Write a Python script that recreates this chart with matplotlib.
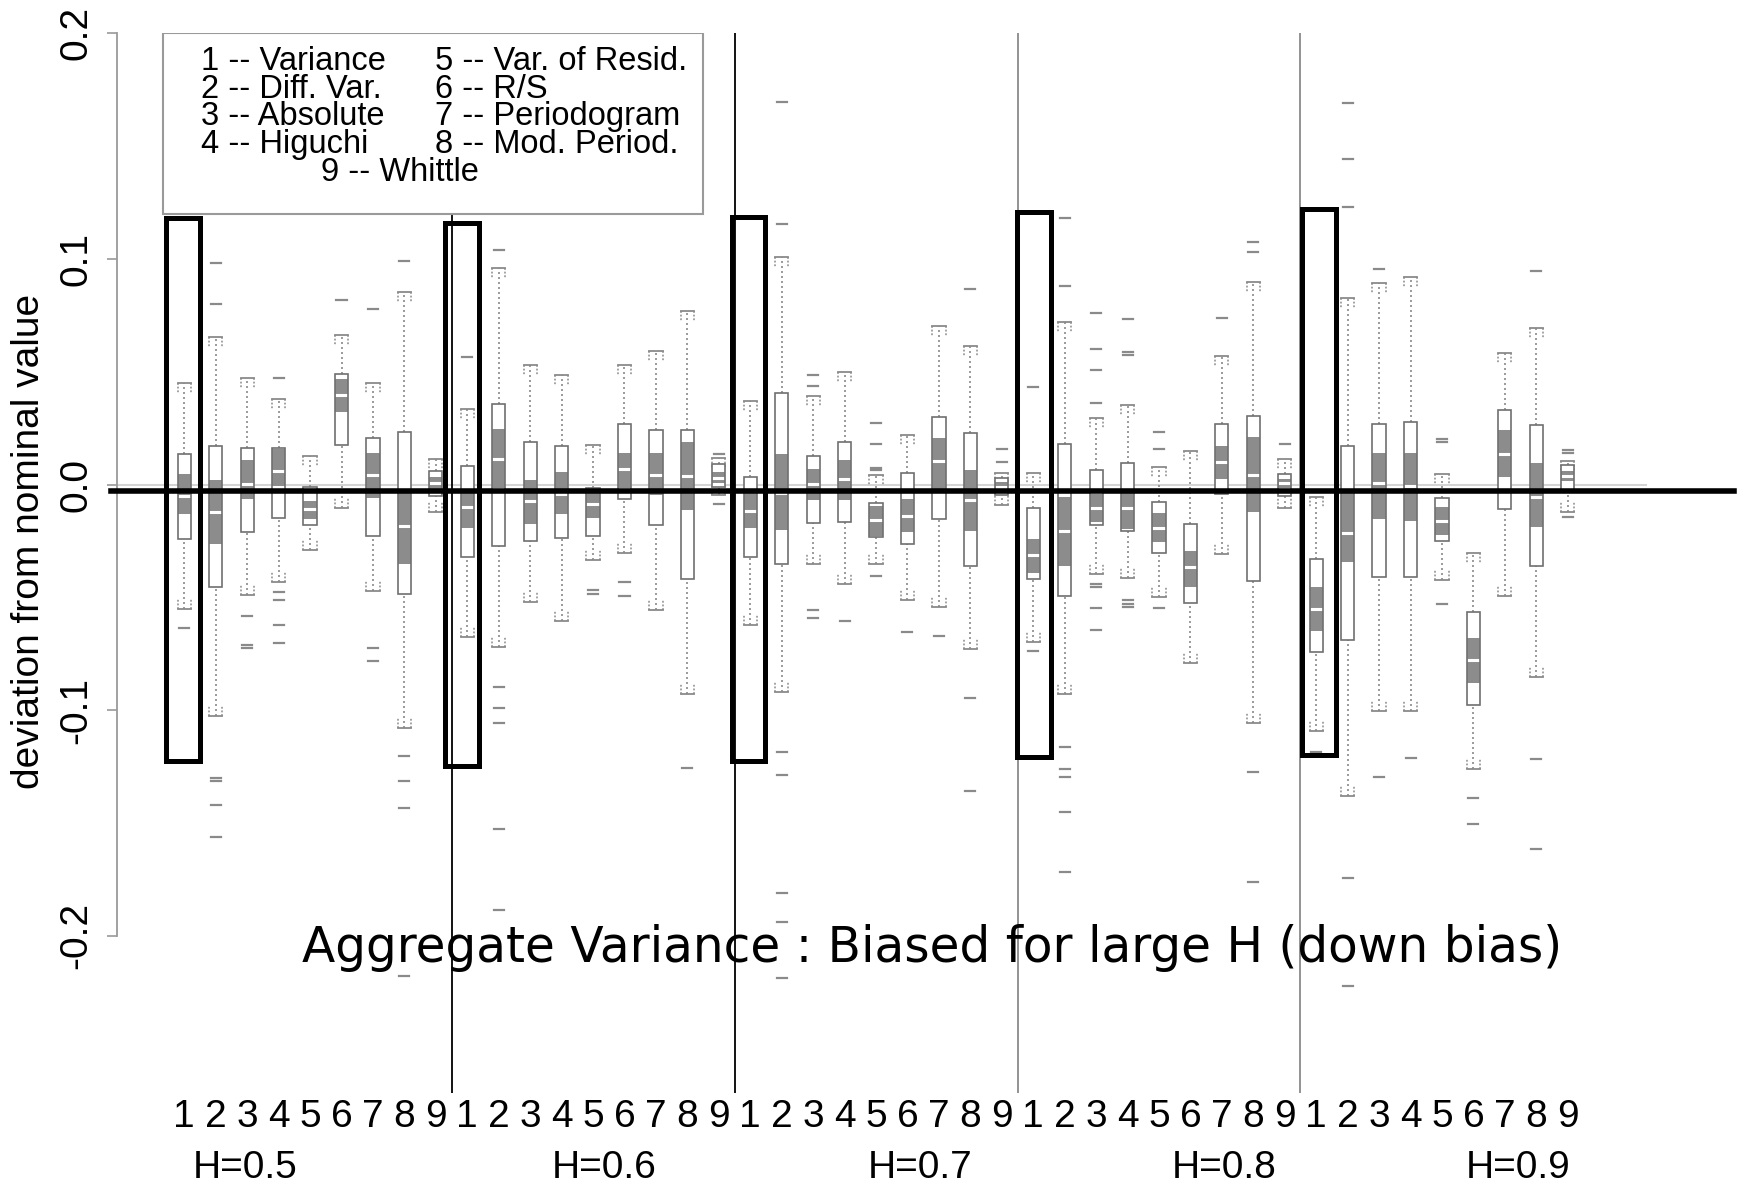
import matplotlib
matplotlib.use('Agg')
import matplotlib.pyplot as plt
import matplotlib.transforms as mtransforms
from matplotlib.patches import Rectangle
import numpy as np

# ---- data ---------------------------------------------------------------
methods = ['Variance', 'Diff. Var.', 'Absolute', 'Higuchi', 'Var. of Resid.',
           'R/S', 'Periodogram', 'Mod. Period.', 'Whittle']
hurst = ['H=0.5', 'H=0.6', 'H=0.7', 'H=0.8', 'H=0.9']
tick_digits = [str(k) for k in range(1, 10)] * 5

# box statistics, 9 estimators x 5 values of H
upper = [0.0448, 0.0653, 0.0472, 0.0378, 0.0125, 0.0665, 0.0452, 0.0853, 0.0112,
         0.0333, 0.0959, 0.0531, 0.0485, 0.0174, 0.0531, 0.0591, 0.0771, 0.0117,
         0.0369, 0.1008, 0.0393, 0.0498, 0.0043, 0.0221, 0.0701, 0.0612, 0.0050,
         0.0053, 0.0721, 0.0293, 0.0353, 0.0077, 0.0149, 0.0569, 0.0898, 0.0113,
         -0.0054, 0.0827, 0.0894, 0.0920, 0.0048, -0.0301, 0.0585, 0.0692, 0.0106]
q3 = [0.0137, 0.0169, 0.0161, 0.0160, -0.0011, 0.0490, 0.0207, 0.0231, 0.0060,
      0.0084, 0.0357, 0.0190, 0.0169, -0.0014, 0.0269, 0.0240, 0.0240, 0.0090,
      0.0033, 0.0405, 0.0126, 0.0187, -0.0082, 0.0050, 0.0300, 0.0230, 0.0030,
      -0.0103, 0.0180, 0.0065, 0.0096, -0.0079, -0.0175, 0.0269, 0.0305, 0.0045,
      -0.0328, 0.0169, 0.0268, 0.0276, -0.0059, -0.0564, 0.0330, 0.0263, 0.0087]
notch_hi = [0.0048, 0.0022, 0.0109, 0.0158, -0.0071, 0.0469, 0.0141, -0.0039, 0.0035,
            -0.0039, 0.0248, 0.0022, 0.0055, -0.0039, 0.0141, 0.0141, 0.0190, 0.0055,
            -0.0036, 0.0135, 0.0068, 0.0108, -0.0096, -0.0066, 0.0208, 0.0066, 0.0010,
            -0.0240, -0.0055, -0.0043, -0.0038, -0.0127, -0.0295, 0.0173, 0.0209, 0.0025,
            -0.0456, -0.0032, 0.0142, 0.0142, -0.0099, -0.0682, 0.0241, 0.0096, 0.0060]
median = [-0.0052, -0.0120, 0.0002, 0.0060, -0.0109, 0.0395, 0.0043, -0.0183, 0.0005,
          -0.0101, 0.0112, -0.0071, -0.0042, -0.0088, 0.0071, 0.0043, 0.0038, 0.0030,
          -0.0115, -0.0036, 0.0003, 0.0023, -0.0155, -0.0140, 0.0103, -0.0070, -0.0010,
          -0.0312, -0.0206, -0.0103, -0.0103, -0.0191, -0.0367, 0.0101, 0.0041, 0.0005,
          -0.0550, -0.0215, 0.0008, -0.0005, -0.0161, -0.0778, 0.0134, -0.0054, 0.0040]
notch_lo = [-0.0132, -0.0263, -0.0063, -0.0006, -0.0153, 0.0321, -0.0060, -0.0350, -0.0025,
            -0.0191, -0.0014, -0.0174, -0.0129, -0.0148, -0.0014, -0.0047, -0.0112, 0.0005,
            -0.0194, -0.0200, -0.0070, -0.0070, -0.0228, -0.0208, -0.0020, -0.0204, -0.0030,
            -0.0391, -0.0359, -0.0168, -0.0199, -0.0254, -0.0456, 0.0025, -0.0120, -0.0015,
            -0.0649, -0.0341, -0.0153, -0.0161, -0.0225, -0.0878, 0.0035, -0.0188, 0.0015]
q1 = [-0.0240, -0.0453, -0.0210, -0.0148, -0.0178, 0.0174, -0.0227, -0.0485, -0.0050,
      -0.0322, -0.0273, -0.0251, -0.0235, -0.0227, -0.0063, -0.0181, -0.0420, -0.0010,
      -0.0323, -0.0353, -0.0169, -0.0165, -0.0234, -0.0262, -0.0152, -0.0362, -0.0045,
      -0.0420, -0.0494, -0.0180, -0.0206, -0.0302, -0.0523, -0.0043, -0.0427, -0.0050,
      -0.0744, -0.0690, -0.0408, -0.0408, -0.0252, -0.0977, -0.0107, -0.0360, -0.0030]
lower = [-0.0551, -0.1025, -0.0489, -0.0431, -0.0292, -0.0104, -0.0472, -0.1077, -0.0120,
         -0.0677, -0.0718, -0.0521, -0.0606, -0.0333, -0.0305, -0.0554, -0.0930, -0.0046,
         -0.0624, -0.0920, -0.0353, -0.0442, -0.0353, -0.0511, -0.0541, -0.0728, -0.0090,
         -0.0696, -0.0926, -0.0398, -0.0415, -0.0499, -0.0792, -0.0307, -0.1056, -0.0105,
         -0.1092, -0.1380, -0.1004, -0.1004, -0.0421, -0.1261, -0.0494, -0.0851, -0.0120]
outliers = [
    [-0.0636],
    [0.0984, 0.0801, -0.1300, -0.1315, -0.1421, -0.1561],
    [-0.0583, -0.0710, -0.0726],
    [0.0473, -0.0477, -0.0513, -0.0624, -0.0701],
    [],
    [0.0817],
    [0.0778, -0.0726, -0.0783],
    [0.0992, -0.1203, -0.1312, -0.1434, -0.2179],
    [],
    [0.0567],
    [0.1041, -0.0898, -0.0992, -0.1058, -0.1525, -0.1886],
    [],
    [],
    [-0.0467, -0.0484],
    [-0.0430, -0.0492],
    [],
    [-0.1257],
    [0.0136, -0.0086],
    [],
    [0.1694, 0.1156, -0.1185, -0.1287, -0.1809, -0.1939, -0.2188],
    [0.0484, 0.0438, -0.0556, -0.0590],
    [-0.0604],
    [0.0274, 0.0181, 0.0072, 0.0066, -0.0406],
    [-0.0655],
    [-0.0669],
    [0.0867, -0.0946, -0.1360],
    [0.0157, 0.0098],
    [0.0433, -0.0739],
    [0.1182, 0.0882, -0.1164, -0.1262, -0.1296, -0.1452, -0.1718],
    [0.0759, 0.0601, 0.0509, 0.0360, -0.0439, -0.0456, -0.0547, -0.0643],
    [0.0735, 0.0586, 0.0574, -0.0511, -0.0528, -0.0542],
    [0.0233, 0.0156, -0.0547],
    [],
    [0.0737],
    [0.1074, 0.1030, -0.1272, -0.1759],
    [0.0181],
    [-0.1186],
    [0.1693, 0.1444, 0.1229, -0.1745, -0.2220],
    [0.0955, -0.1294],
    [-0.1213],
    [0.0204, 0.0188, -0.0529],
    [-0.1388, -0.1503],
    [],
    [0.0947, -0.1218, -0.1616],
    [0.0142, 0.0152, -0.0145],
]

# boxes picked out for the Variance estimator (top / bottom of frame)
frame_top = [0.118, 0.1158, 0.1187, 0.121, 0.122]
frame_bot = [-0.1227, -0.1246, -0.1227, -0.1207, -0.1197]

# ---- layout ---------------------------------------------------------------
W, H = 1741, 1187
fig = plt.figure(figsize=(W / 100, H / 100), dpi=100)
ax = fig.add_axes([116.6 / W, 1 - 1093 / H, 1 - 116.6 / W, (1093 - 33) / H])
ax.set_xlim(-1.153, 50.51)
ax.set_ylim(-0.2696, 0.2001)

rfont = 'Liberation Sans'
box_w = 0.42
pos = np.arange(1, len(median) + 1)

# zero reference line
ax.plot([-1.153, 47.5], [0, 0], color='#d4d4d4', lw=1.5, zorder=1)

# separators between H groups
sep_x = [9.5, 18.5, 27.5, 36.5]
sep_col = ['black', 'black', '#8a8a8a', '#8a8a8a']
for x, c in zip(sep_x, sep_col):
    ax.axvline(x, color=c, lw=1.3, zorder=1)

for x, hi, b_hi, n_hi, med, n_lo, b_lo, lo, out in zip(
        pos, upper, q3, notch_hi, median, notch_lo, q1, lower, outliers):
    left, right = x - box_w / 2, x + box_w / 2
    # whiskers
    ax.plot([x, x], [b_hi, hi], color='#8a8a8a', lw=1.2, ls=(0, (1.2, 1.8)), zorder=2)
    ax.plot([x, x], [lo, b_lo], color='#8a8a8a', lw=1.2, ls=(0, (1.2, 1.8)), zorder=2)
    # bracket caps
    for y, d in ((hi, -1), (lo, 1)):
        ax.plot([left, right], [y, y], color='#8a8a8a', lw=1.3, zorder=2)
        for xe in (left, right):
            ax.plot([xe, xe], [y, y + d * 0.0045], color='#8a8a8a', lw=1.1,
                    ls=(0, (1.2, 1.2)), zorder=2)
    # box with shaded notch band and white median
    ax.add_patch(Rectangle((left, b_lo), box_w, b_hi - b_lo, fc='white', ec='none', zorder=3))
    ax.add_patch(Rectangle((left, n_lo), box_w, n_hi - n_lo, fc='#8c8c8c', ec='none', zorder=3))
    ax.plot([left, right], [med, med], color='white', lw=2.2, solid_capstyle='butt', zorder=4)
    ax.add_patch(Rectangle((left, b_lo), box_w, b_hi - b_lo, fc='none', ec='#707070',
                           lw=1.2, zorder=4))
    # outlying points
    for o in out:
        ax.plot([x - 0.16, x + 0.16], [o, o], color='#8a8a8a', lw=1.6, zorder=2)

# thick reference line and frames around the Variance boxes
ax.plot([-1.33, 50.3], [-0.003, -0.003], color='black', lw=4, zorder=6, clip_on=False)
frame_dx = [-0.57, -0.70, -0.59, -0.52, -0.45]
for g, (t, b, dx) in enumerate(zip(frame_top, frame_bot, frame_dx)):
    x0 = pos[g * 9] + dx
    ax.add_patch(Rectangle((x0, b), 1.07, t - b, fc='none', ec='black', lw=3.6, zorder=7))

# legend box
ax.add_patch(Rectangle((0.33, 0.1198), 17.16, 0.0803, fc='white', ec='#9a9a9a',
                       lw=1.5, zorder=5))
row_y = [0.1875, 0.1752, 0.1629, 0.1506]
for k in range(4):
    ax.text(1.54, row_y[k], f'{k + 1} -- {methods[k]}', fontsize=23.5, family=rfont,
            va='center', ha='left', zorder=6)
    ax.text(8.98, row_y[k], f'{k + 5} -- {methods[k + 4]}', fontsize=23.5, family=rfont,
            va='center', ha='left', zorder=6)
ax.text(7.86, 0.1383, f'9 -- {methods[8]}', fontsize=23.5, family=rfont,
        va='center', ha='center', zorder=6)

# axes
for s in ('top', 'right', 'bottom'):
    ax.spines[s].set_visible(False)
ax.spines['left'].set_bounds(-0.2, 0.2)
ax.spines['left'].set_color('#9a9a9a')
ax.spines['left'].set_linewidth(1.3)
yt = [-0.2, -0.1, 0.0, 0.1, 0.2]
ax.set_yticks(yt)
ax.set_yticklabels([f'{v:.1f}' for v in yt], family=rfont, fontsize=28,
                   rotation=90, va='center')
ax.tick_params(axis='y', length=7, width=1.2, color='#9a9a9a', pad=9)
ax.set_xticks(pos)
ax.set_xticklabels(tick_digits, family=rfont, fontsize=28)
ax.tick_params(axis='x', length=0, pad=4)

ax.text(-0.054, 0.52, 'deviation from nominal value', transform=ax.transAxes,
        rotation=90, ha='center', va='center', fontsize=28, family=rfont)

hx = [2.93, 14.35, 24.4, 34.07, 43.42]
trans = mtransforms.blended_transform_factory(ax.transData, ax.transAxes)
for x, lab in zip(hx, hurst):
    ax.text(x, -0.0708, lab, transform=trans, ha='center', va='center',
            fontsize=28, family=rfont, clip_on=False)

ax.text(24.78, -0.2117, 'Aggregate Variance : Biased for large H (down bias)',
        ha='center', va='baseline', fontsize=35, family='DejaVu Sans', zorder=8)

fig.savefig('out.png', dpi=100)
